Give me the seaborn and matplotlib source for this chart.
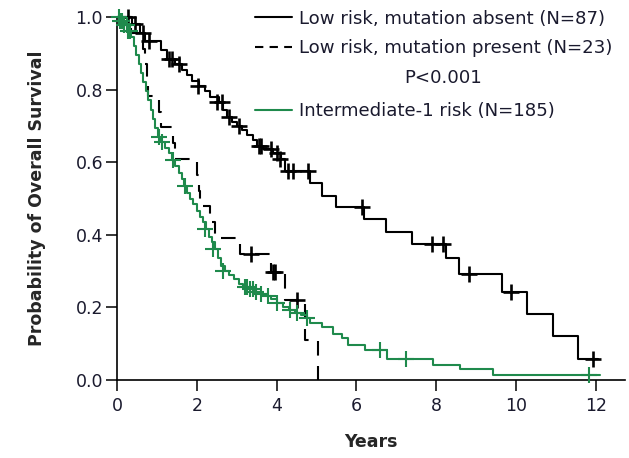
import matplotlib
matplotlib.use("Agg")
import matplotlib.pyplot as plt
from matplotlib.lines import Line2D
import seaborn as sns
import pandas as pd

# ---- data ----
absent_t = [0, 0.37, 0.58, 0.70, 1.10, 1.25, 1.45, 1.62, 1.75, 1.87, 2.05, 2.20, 2.33, 2.55,
            2.65, 2.75, 2.88, 3.00, 3.12, 3.25, 3.40, 3.50, 3.65, 3.90, 4.10, 4.20, 4.84,
            5.13, 5.50, 6.19, 6.73, 7.39, 8.25, 8.57, 9.65, 10.27, 10.93, 11.55, 12.05]
absent_s = [1.0, 0.98, 0.955, 0.935, 0.908, 0.885, 0.87, 0.855, 0.84, 0.825, 0.81, 0.795,
            0.78, 0.765, 0.745, 0.725, 0.71, 0.70, 0.69, 0.675, 0.66, 0.645, 0.635, 0.625,
            0.61, 0.575, 0.542, 0.506, 0.477, 0.443, 0.407, 0.374, 0.335, 0.292, 0.242,
            0.181, 0.122, 0.058, 0.058]
absent_cens_t = [0.28, 0.45, 0.64, 0.80, 1.30, 1.38, 1.55, 2.03, 2.50, 2.62, 2.80, 3.05,
                 3.55, 3.62, 3.85, 4.00, 4.09, 4.29, 4.42, 4.79, 6.13, 7.89, 8.16, 8.82,
                 9.87, 11.92]
absent_cens_s = [1.0, 0.98, 0.955, 0.935, 0.885, 0.885, 0.87, 0.81, 0.765, 0.765, 0.725,
                 0.70, 0.645, 0.645, 0.635, 0.625, 0.61, 0.575, 0.575, 0.575, 0.477, 0.374,
                 0.374, 0.292, 0.242, 0.058]

present_t = [0, 0.35, 0.66, 0.70, 0.74, 0.78, 0.83, 1.04, 1.10, 1.40, 1.45, 2.01, 2.05,
             2.08, 2.33, 2.45, 3.08, 3.85, 4.20, 4.71, 5.04]
present_s = [1.0, 0.957, 0.913, 0.870, 0.826, 0.783, 0.783, 0.739, 0.696, 0.652, 0.609,
             0.565, 0.522, 0.478, 0.435, 0.391, 0.348, 0.298, 0.22, 0.11, 0.0]
present_cens_t = [3.37, 3.90, 3.95, 4.50]
present_cens_s = [0.348, 0.298, 0.298, 0.22]

inter_t = [0, 0.10, 0.20, 0.30, 0.36, 0.42, 0.48, 0.54, 0.60, 0.66, 0.72, 0.78, 0.84, 0.90,
           0.96, 1.02, 1.10, 1.20, 1.30, 1.37, 1.45, 1.55, 1.62, 1.68, 1.75, 1.83, 1.91,
           2.00, 2.08, 2.15, 2.22, 2.30, 2.37, 2.45, 2.52, 2.60, 2.70, 2.80, 2.92, 3.05,
           3.15, 3.30, 3.45, 3.60, 3.75, 3.85, 4.00, 4.16, 4.30, 4.45, 4.60, 4.75, 4.84,
           5.13, 5.42, 5.63, 5.80, 6.22, 6.76, 7.93, 8.60, 9.43, 12.10]
inter_s = [1.0, 0.99, 0.978, 0.962, 0.945, 0.92, 0.895, 0.87, 0.845, 0.82, 0.795, 0.77,
           0.745, 0.72, 0.695, 0.67, 0.655, 0.64, 0.625, 0.605, 0.59, 0.57, 0.555, 0.535,
           0.515, 0.50, 0.485, 0.465, 0.45, 0.435, 0.415, 0.395, 0.38, 0.36, 0.335, 0.315,
           0.30, 0.29, 0.278, 0.265, 0.257, 0.25, 0.243, 0.237, 0.232, 0.222, 0.212, 0.20,
           0.193, 0.185, 0.178, 0.17, 0.156, 0.147, 0.128, 0.117, 0.096, 0.083, 0.057,
           0.041, 0.029, 0.014, 0.014]
inter_cens_t = [0.04, 0.08, 0.13, 0.18, 0.24, 0.27, 0.33, 1.04, 1.12, 1.40, 1.70, 2.20,
                2.40, 2.66, 3.20, 3.27, 3.33, 3.40, 3.48, 3.62, 3.78, 4.02, 4.34, 4.50,
                4.75, 6.59, 7.24, 11.83]
inter_cens_s = [1.0, 0.99, 0.99, 0.978, 0.978, 0.962, 0.962, 0.67, 0.655, 0.605, 0.535,
                0.415, 0.36, 0.30, 0.257, 0.257, 0.25, 0.25, 0.243, 0.237, 0.232, 0.212,
                0.193, 0.185, 0.17, 0.083, 0.057, 0.014]

labels = ["Low risk, mutation absent (N=87)",
          "Low risk, mutation present (N=23)",
          "Intermediate-1 risk (N=185)"]
p_text = "P<0.001"
x_ticks = [0, 2, 4, 6, 8, 10, 12]
y_ticks = [0.0, 0.2, 0.4, 0.6, 0.8, 1.0]

GREEN = "#1f8a4c"
TXT = "#1a1a2e"
FS = 13.1

sns.set_theme(style="white")
plt.rcParams["font.family"] = ["DejaVu Sans"]

fig = plt.figure(figsize=(6.29, 4.58), dpi=100)
ax = fig.add_axes([117 / 629, 1 - 380 / 458, (625 - 117) / 629, (380 - 17) / 458])

def curve(t, s, color, ls):
    df = pd.DataFrame({"t": t, "s": s})
    sns.lineplot(data=df, x="t", y="s", ax=ax, color=color, linestyle=ls, linewidth=1.5,
                 drawstyle="steps-post", estimator=None, sort=False, clip_on=False,
                 legend=False)

def cens(t, s, color, lw):
    df = pd.DataFrame({"t": t, "s": s})
    sns.scatterplot(data=df, x="t", y="s", ax=ax, color=color, marker="+", s=140,
                    linewidth=lw, clip_on=False, legend=False, zorder=4)

curve(absent_t, absent_s, "black", "-")
curve(present_t, present_s, "black", (0, (7, 5)))
curve(inter_t, inter_s, GREEN, "-")
cens(absent_cens_t, absent_cens_s, "black", 1.9)
cens(present_cens_t, present_cens_s, "black", 1.9)
cens(inter_cens_t, inter_cens_s, GREEN, 1.5)

ax.set_xlim(0, 12.73)
ax.set_ylim(0, 1.0)
ax.set_xticks(x_ticks)
ax.set_xticklabels([str(v) for v in x_ticks])
ax.set_yticks(y_ticks)
ax.set_yticklabels([f"{v:.1f}" for v in y_ticks])
sns.despine(ax=ax)
for sp in ("left", "bottom"):
    ax.spines[sp].set_color("black")
    ax.spines[sp].set_linewidth(1.2)
ax.tick_params(axis="both", which="major", direction="out", length=8, width=1.1,
               color="black", labelsize=12.5, labelcolor=TXT, left=True, bottom=True)
ax.tick_params(axis="x", pad=4)
ax.tick_params(axis="y", pad=2)
ax.set_xlabel("Years", fontsize=12.5, fontweight="bold", labelpad=13)
ax.set_ylabel("Probability of Overall Survival", fontsize=12.5, fontweight="bold",
              labelpad=21)

h1 = Line2D([], [], color="black", lw=1.5)
h2 = Line2D([], [], color="black", lw=1.5, linestyle=(0, (4, 3)))
h3 = Line2D([], [], color=GREEN, lw=1.5)
common = dict(frameon=False, fontsize=FS, handlelength=2.0, handletextpad=0.4,
              borderaxespad=0, borderpad=0, labelcolor=TXT)
leg1 = ax.legend([h1, h2], labels[:2], loc="upper left", bbox_to_anchor=(0.272, 1.02),
                 labelspacing=0.64, **common)
ax.add_artist(leg1)
ax.legend([h3], labels[2:], loc="upper left", bbox_to_anchor=(0.272, 0.766), **common)
ax.text(0.642, 0.832, p_text, transform=ax.transAxes, ha="center", va="center",
        fontsize=FS, color=TXT)

fig.savefig("out.png", dpi=100)
